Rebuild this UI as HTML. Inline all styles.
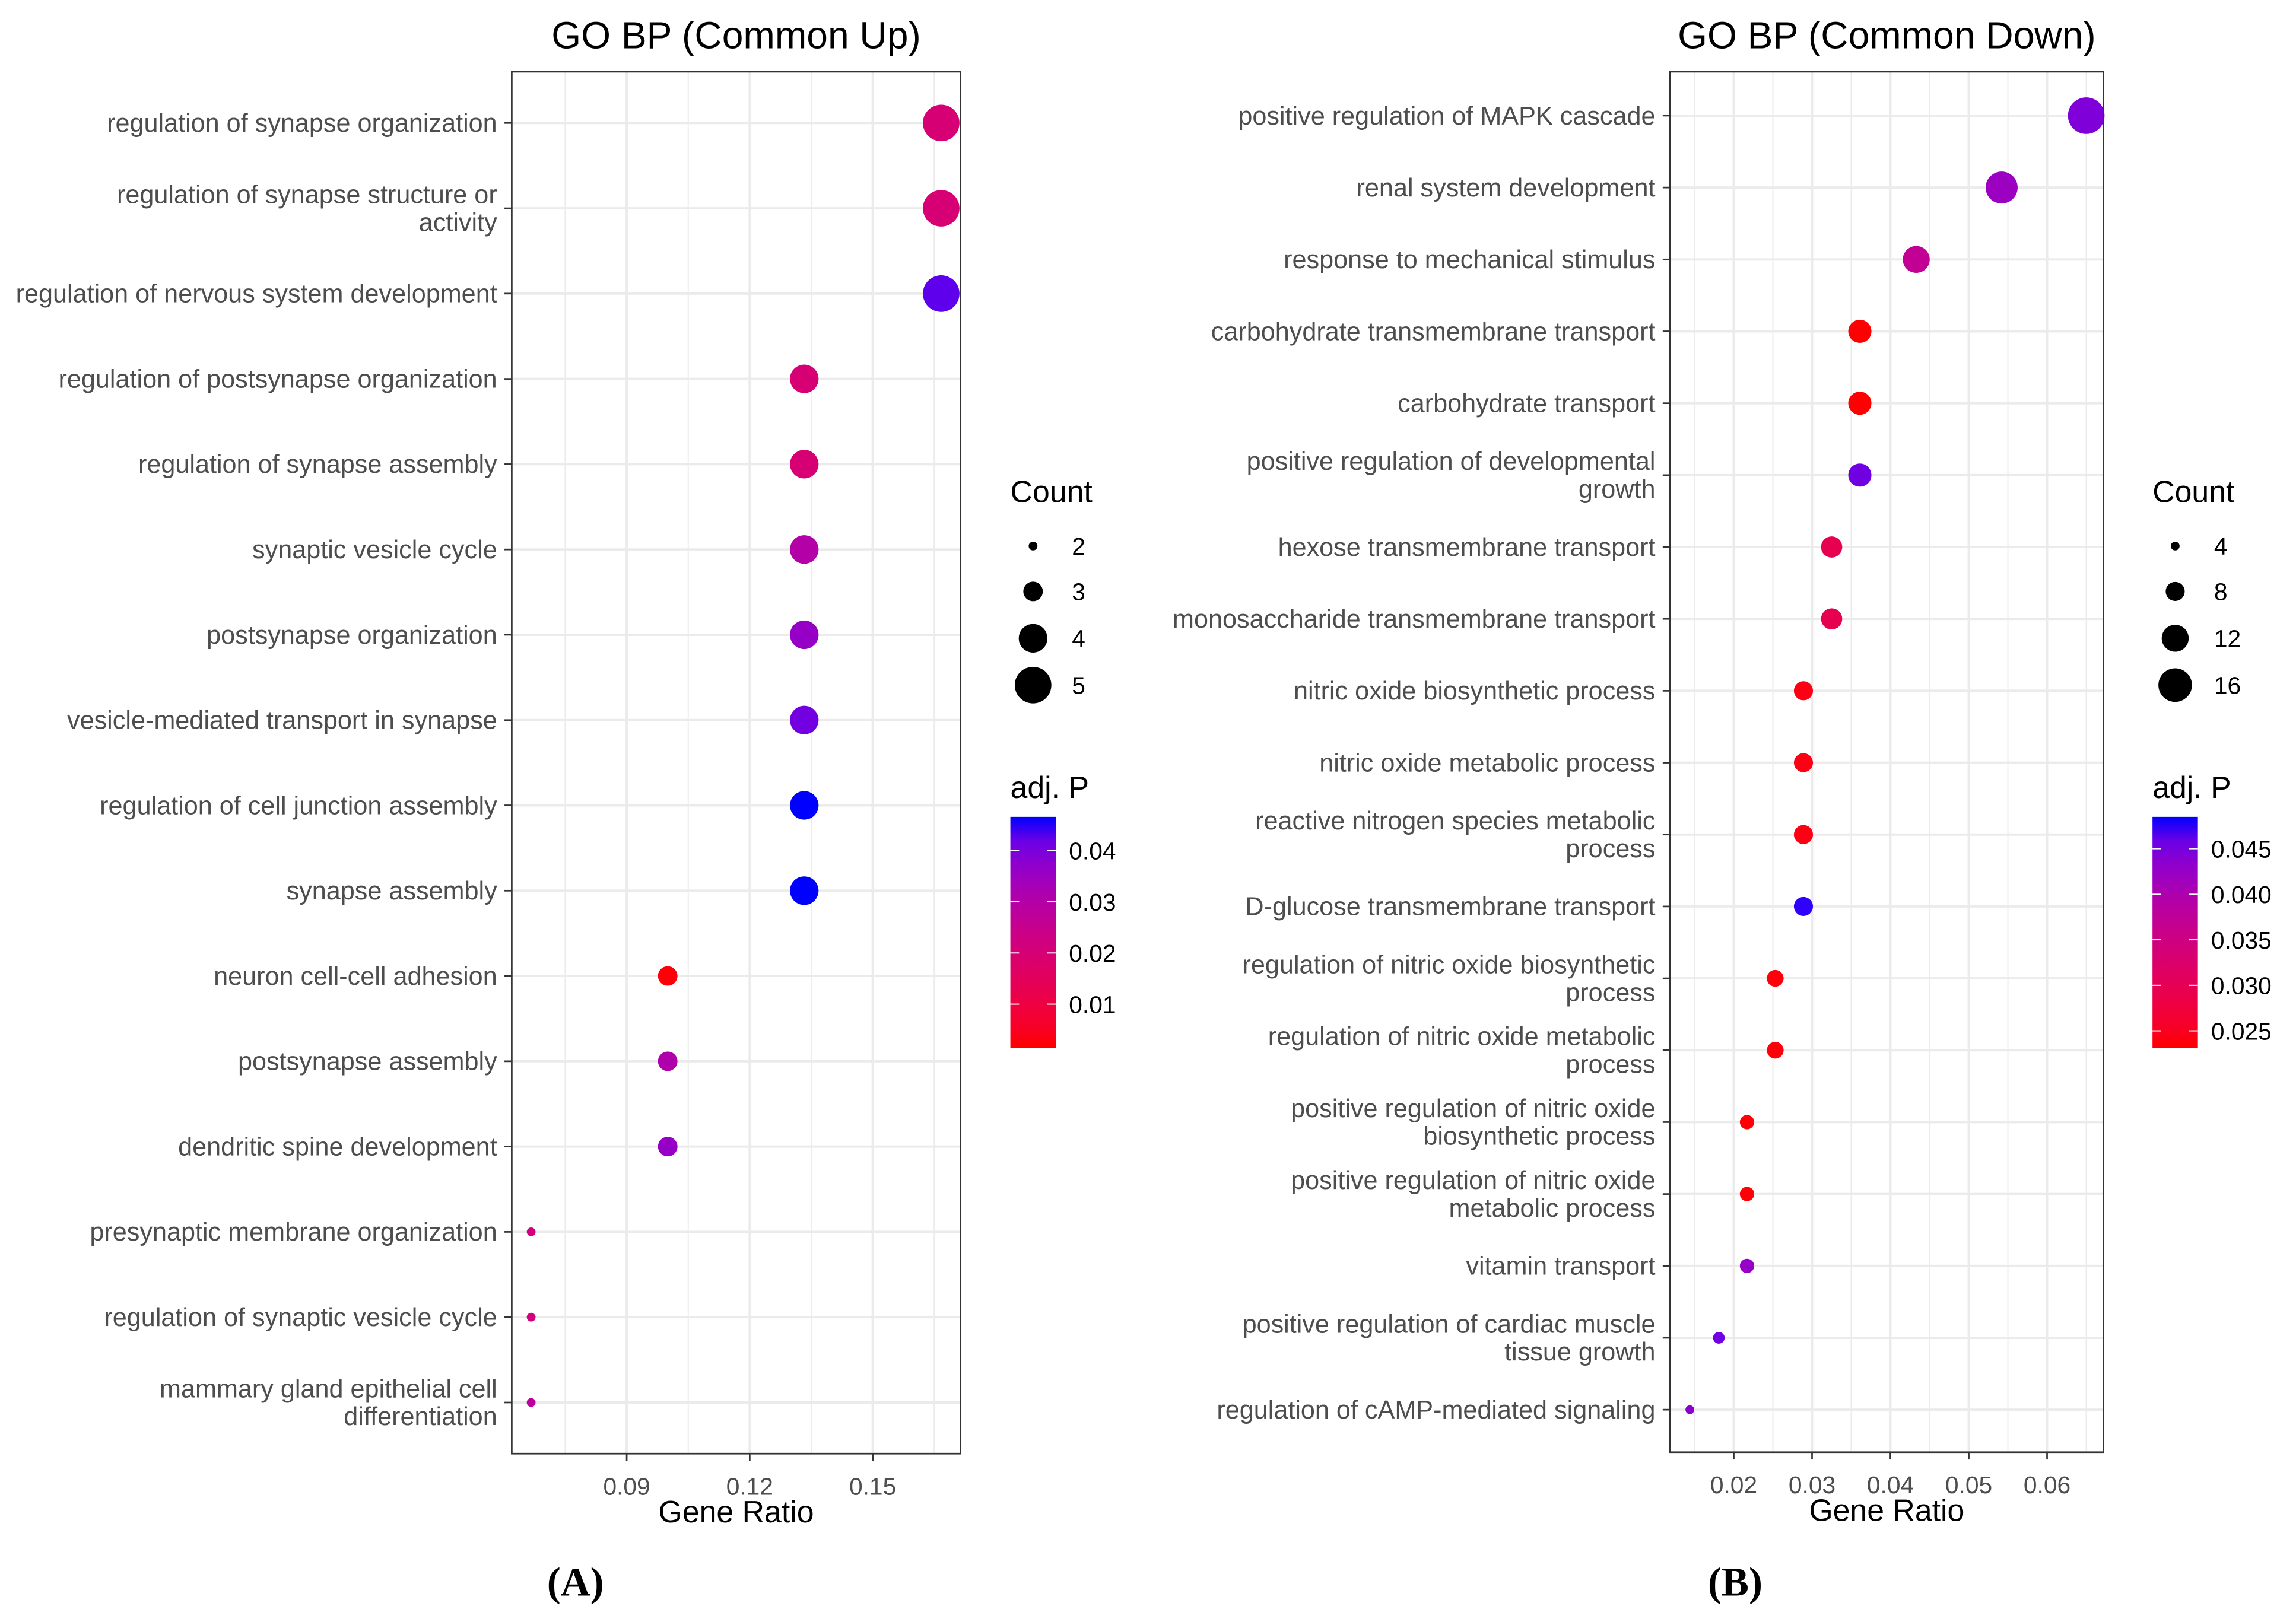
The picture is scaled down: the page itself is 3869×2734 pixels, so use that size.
<!DOCTYPE html>
<html><head><meta charset="utf-8"><style>
html,body{margin:0;padding:0;background:#fff;}
svg{display:block;}
text{font-family:"Liberation Sans",Arial,sans-serif;}
text.serif{font-family:"Liberation Serif","Times New Roman",serif;}
</style></head><body>
<svg id="fig" width="3869" height="2734" viewBox="0 0 1568 1108" xmlns="http://www.w3.org/2000/svg">
<defs>
<linearGradient id="gradA" x1="0" y1="1" x2="0" y2="0"></linearGradient>
<linearGradient id="gradB" x1="0" y1="1" x2="0" y2="0"></linearGradient>
</defs>
<g id="root"></g>
</svg>
<script>
// ---- Panel A data ----
const catsA = ["regulation of synapse organization","regulation of synapse structure or|activity","regulation of nervous system development","regulation of postsynapse organization","regulation of synapse assembly","synaptic vesicle cycle","postsynapse organization","vesicle-mediated transport in synapse","regulation of cell junction assembly","synapse assembly","neuron cell-cell adhesion","postsynapse assembly","dendritic spine development","presynaptic membrane organization","regulation of synaptic vesicle cycle","mammary gland epithelial cell|differentiation"];
const ratioA = [0.1667,0.1667,0.1667,0.1333,0.1333,0.1333,0.1333,0.1333,0.1333,0.1333,0.1,0.1,0.1,0.0667,0.0667,0.0667];
const countA = [5,5,5,4,4,4,4,4,4,4,3,3,3,2,2,2];
const padjA = [0.02,0.02,0.043,0.02,0.02,0.03,0.036,0.041,0.047,0.047,0.002,0.031,0.036,0.022,0.022,0.028];
const xticksA = [0.09,0.12,0.15];
const sizeLegA = [2,3,4,5];
const colTicksA = [0.01,0.02,0.03,0.04];
// ---- Panel B data ----
const catsB = ["positive regulation of MAPK cascade","renal system development","response to mechanical stimulus","carbohydrate transmembrane transport","carbohydrate transport","positive regulation of developmental|growth","hexose transmembrane transport","monosaccharide transmembrane transport","nitric oxide biosynthetic process","nitric oxide metabolic process","reactive nitrogen species metabolic|process","D-glucose transmembrane transport","regulation of nitric oxide biosynthetic|process","regulation of nitric oxide metabolic|process","positive regulation of nitric oxide|biosynthetic process","positive regulation of nitric oxide|metabolic process","vitamin transport","positive regulation of cardiac muscle|tissue growth","regulation of cAMP-mediated signaling"];
const ratioB = [0.065,0.0542,0.0433,0.0361,0.0361,0.0361,0.0325,0.0325,0.0289,0.0289,0.0289,0.0289,0.0253,0.0253,0.0217,0.0217,0.0217,0.0181,0.0144];
const countB = [18,15,12,10,10,10,9,9,8,8,8,8,7,7,6,6,6,5,4];
const padjB = [0.0445,0.042,0.037,0.0232,0.0232,0.0455,0.0295,0.0295,0.024,0.024,0.024,0.048,0.0235,0.0235,0.0233,0.0233,0.0425,0.0455,0.0435];
const xticksB = [0.02,0.03,0.04,0.05,0.06];
const sizeLegB = [4,8,12,16];
const colTicksB = [0.025,0.030,0.035,0.040,0.045];

const NS="http://www.w3.org/2000/svg";
const root=document.getElementById('root');
function el(tag,attrs,parent){const e=document.createElementNS(NS,tag);for(const k in attrs)e.setAttribute(k,attrs[k]);(parent||root).appendChild(e);return e;}

function s2l(c){c/=255;return c<=0.04045?c/12.92:Math.pow((c+0.055)/1.055,2.4);}
function l2s(c){c=c<=0.0031308?12.92*c:1.055*Math.pow(c,1/2.4)-0.055;return Math.max(0,Math.min(255,Math.round(c*255)));}
function toLab(r,g,b){r=s2l(r);g=s2l(g);b=s2l(b);let X=(0.4124*r+0.3576*g+0.1805*b)/0.95047,Y=0.2126*r+0.7152*g+0.0722*b,Z=(0.0193*r+0.1192*g+0.9505*b)/1.08883;const f=t=>t>0.008856?Math.cbrt(t):7.787*t+16/116;X=f(X);Y=f(Y);Z=f(Z);return[116*Y-16,500*(X-Y),200*(Y-Z)];}
function fromLab(L,a,b){let Y=(L+16)/116,X=a/500+Y,Z=Y-b/200;const fi=t=>t*t*t>0.008856?t*t*t:(t-16/116)/7.787;X=fi(X)*0.95047;Y=fi(Y);Z=fi(Z)*1.08883;const r=3.2406*X-1.5372*Y-0.4986*Z,g=-0.9689*X+1.8758*Y+0.0415*Z,bb=0.0557*X-0.2040*Y+1.0570*Z;return'rgb('+l2s(r)+','+l2s(g)+','+l2s(bb)+')';}
const LR=toLab(255,0,0),LB=toLab(0,0,255);
function colT(t){t=Math.max(0,Math.min(1,t));return fromLab(LR[0]+(LB[0]-LR[0])*t,LR[1]+(LB[1]-LR[1])*t,LR[2]+(LB[2]-LR[2])*t);}

function panel(o){
  const g=el('g',{});
  
  
  const xs=v=>o.x0+(v-o.v0)*o.k;
  const ys=i=>o.yTop+i*o.dy;
  const cs=p=>colT((p-o.pmin)/(o.pmax-o.pmin));
  const rs=c=>o.r0+(o.r1-o.r0)*(Math.sqrt(c)-Math.sqrt(o.cmin))/(Math.sqrt(o.cmax)-Math.sqrt(o.cmin));
  const t=el('text',{x:(o.L+o.R)/2,y:33,'text-anchor':'middle','font-size':26,fill:'#000'},g);t.textContent=o.title;
  
  const step=o.ticks[1]-o.ticks[0];
  for(let v=o.ticks[0]-step*3;v<=o.ticks[o.ticks.length-1]+step*3;v+=step/2){
    const x=xs(v);if(x<=o.L+0.5||x>=o.R-0.5)continue;
    const major=Math.abs(((v-o.ticks[0])/step)-Math.round((v-o.ticks[0])/step))<1e-6;
    const gl=el('line',{x1:x,x2:x,y1:o.T,y2:o.B,stroke:'#EBEBEB','stroke-width':major?1.6:0.8},g);
    
  }
  o.cats.forEach((c,i)=>{const y=ys(i);const gl=el('line',{x1:o.L,x2:o.R,y1:y,y2:y,stroke:'#EBEBEB','stroke-width':1.6},g);});
  o.cats.forEach((c,i)=>{
    const p=el('circle',{cx:xs(o.ratio[i]),cy:ys(i),r:rs(o.count[i]),fill:cs(o.padj[i])},g);
    
  });
  const b=el('rect',{x:o.L,y:o.T,width:o.R-o.L,height:o.B-o.T,fill:'none',stroke:'#333','stroke-width':1.1},g);
  
  o.cats.forEach((c,i)=>{
    const y=ys(i);
    el('line',{x1:o.L-5,x2:o.L,y1:y,y2:y,stroke:'#333','stroke-width':1.1},g);
    const lines=c.split('|');
    const tx=el('text',{x:o.L-10,y:0,'text-anchor':'end','font-size':17.5,fill:'#4D4D4D'},g);
    
    lines.forEach((ln,j)=>{const ts=el('tspan',{x:o.L-10,y:y+6+(j-(lines.length-1)/2)*19},tx);ts.textContent=ln;});
  });
  o.ticks.forEach(v=>{
    const x=xs(v);
    el('line',{x1:x,x2:x,y1:o.B,y2:o.B+5,stroke:'#333','stroke-width':1.1},g);
    const tl=el('text',{x:x,y:o.B+28,'text-anchor':'middle','font-size':16.5,fill:'#4D4D4D'},g);tl.textContent=v.toFixed(2);
    
  });
  const xt=el('text',{x:(o.L+o.R)/2,y:o.B+47,'text-anchor':'middle','font-size':21,fill:'#000'},g);xt.textContent='Gene Ratio';
  
  const lt=el('text',{x:o.lx,y:343,'font-size':21,fill:'#000'},g);lt.textContent='Count';
  
  const legY=[373,404,436,468];
  o.sizeLeg.forEach((c,j)=>{
    const ci=el('circle',{cx:o.lx+15.5,cy:legY[j],r:rs(c),fill:'#000'},g);
    
    const tt=el('text',{x:o.lx+42,y:legY[j]+6,'font-size':16.5,fill:'#000'},g);tt.textContent=c;
    
  });
  const ct=el('text',{x:o.lx,y:545,'font-size':21,fill:'#000'},g);ct.textContent='adj. P';
  
  const grad=document.getElementById(o.grad);
  for(let s=0;s<=10;s++){el('stop',{offset:(s/10),'stop-color':colT(s/10)},grad);}
  const cbT=558,cbB=716;
  const cb=el('rect',{x:o.lx,y:cbT,width:31,height:cbB-cbT,fill:'url(#'+o.grad+')'},g);
  
  const cy=p=>cbB-(p-o.pmin)/(o.pmax-o.pmin)*(cbB-cbT);
  o.colTicks.forEach(p=>{
    const y=cy(p);
    el('line',{x1:o.lx,x2:o.lx+6,y1:y,y2:y,stroke:'#fff','stroke-width':0.8},g);
    el('line',{x1:o.lx+25,x2:o.lx+31,y1:y,y2:y,stroke:'#fff','stroke-width':0.8},g);
    const tt=el('text',{x:o.lx+40,y:y+6,'font-size':16.5,fill:'#000'},g);tt.textContent=p.toFixed(o.dec);
    
  });
  const pl=el('text',{x:o.plx,y:1090,'text-anchor':'middle','font-size':28,'font-weight':'bold',fill:'#000','class':'serif'},g);pl.textContent=o.plabel;
  
}

panel({name:'panel-a',title:'GO BP (Common Up)',cats:catsA,ratio:ratioA,count:countA,padj:padjA,ticks:xticksA,sizeLeg:sizeLegA,colTicks:colTicksA,
  L:349.5,R:656,T:49,B:993,x0:428,v0:0.09,k:2800,yTop:84,dy:58.27,pmin:0.0014,pmax:0.0466,cmin:2,cmax:5,r0:3,r1:12.5,lx:690,grad:'gradA',dec:2,plabel:'(A)',plx:393});
panel({name:'panel-b',title:'GO BP (Common Down)',cats:catsB,ratio:ratioB,count:countB,padj:padjB,ticks:xticksB,sizeLeg:sizeLegB,colTicks:colTicksB,
  L:1140.5,R:1436.5,T:49,B:992,x0:1184,v0:0.02,k:5350,yTop:79,dy:49.11,pmin:0.0231,pmax:0.0485,cmin:4,cmax:18,r0:3,r1:12.5,lx:1470,grad:'gradB',dec:3,plabel:'(B)',plx:1185});
</script>
</body></html>
